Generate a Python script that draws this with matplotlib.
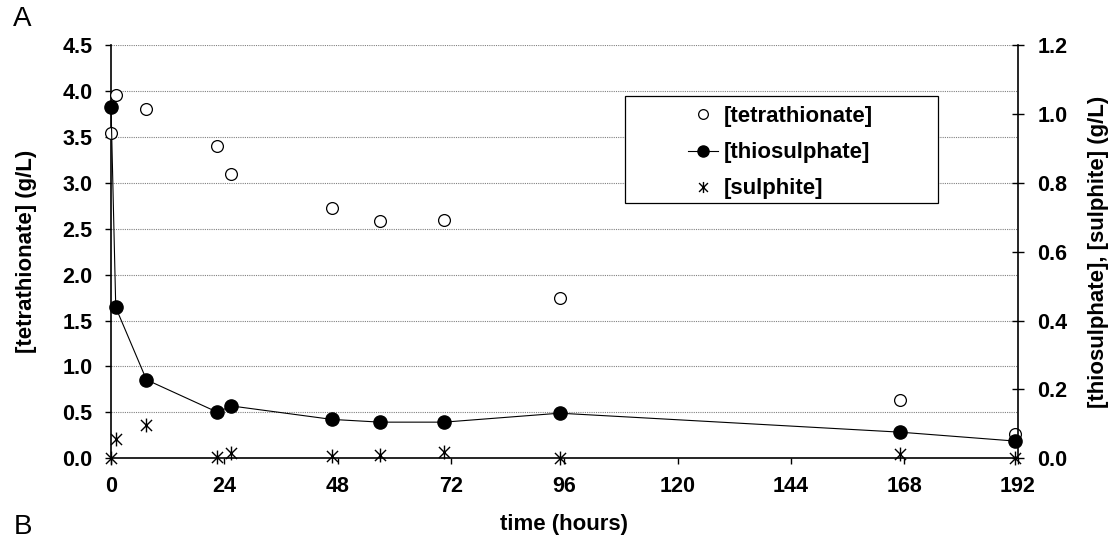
import numpy as np
import matplotlib
matplotlib.use('Agg')
from matplotlib import pyplot as plt
from matplotlib.lines import Line2D
from matplotlib.patches import Rectangle
from matplotlib.path import Path

plt.rcParams['font.family'] = ['Liberation Sans', 'DejaVu Sans']
plt.rcParams['font.weight'] = 'bold'

# sampling times (hours)
time_h = [0, 1, 7.5, 22.5, 25.5, 46.75, 57, 70.5, 95, 167, 191.5]

# left axis (g/L)
tetrathionate = [3.54, 3.96, 3.80, 3.40, 3.10, 2.72, 2.58, 2.60, 1.75, 0.635, 0.26]

# right axis (g/L)
thiosulphate = [1.02, 0.438, 0.228, 0.134, 0.152, 0.113, 0.105, 0.105, 0.131, 0.076, 0.050]
sulphite = [0.0, 0.055, 0.097, 0.003, 0.016, 0.008, 0.011, 0.019, 0.0, 0.012, 0.0]

x_ticks = np.arange(0, 193, 24)
left_ticks = np.arange(0, 4.51, 0.5)
right_ticks = np.arange(0, 1.21, 0.2)

TICK_FS = 15.5
LABEL_FS = 16

# X with a vertical bar (Excel style asterisk)
STAR = Path([(-1, -1), (1, 1), (-1, 1), (1, -1), (0, -1.25), (0, 1.25)],
            [Path.MOVETO, Path.LINETO, Path.MOVETO, Path.LINETO, Path.MOVETO, Path.LINETO])

fig = plt.figure(figsize=(11.16, 5.39), dpi=100)
ax = fig.add_axes([0.0995, 0.1497, 0.8125, 0.7668])
ax2 = ax.twinx()

# horizontal grid on left scale
for v in left_ticks[1:]:
    ax.axhline(v, color='#808080', lw=0.8, ls=(0, (1, 1)), zorder=0)

ax.plot(time_h, tetrathionate, ls='none', marker='o', ms=8.5,
        mfc='white', mec='black', mew=0.9, clip_on=False, zorder=5)
ax2.plot(time_h, thiosulphate, color='black', lw=0.8, marker='o', ms=9.5,
         mfc='black', mec='black', clip_on=False, zorder=5)
ax2.plot(time_h, sulphite, ls='none', marker=STAR, ms=10,
         mfc='none', mec='black', mew=1.0, clip_on=False, zorder=5)

ax.set_xlim(0, 192)
ax.set_ylim(0, 4.5)
ax2.set_ylim(0, 1.2)
ax.set_xticks(x_ticks)
ax.set_yticks(left_ticks)
ax2.set_yticks(right_ticks)
ax.set_yticklabels(['%.1f' % v for v in left_ticks])
ax2.set_yticklabels(['%.1f' % v for v in right_ticks])

for a in (ax, ax2):
    a.spines['top'].set_visible(False)
    a.patch.set_visible(False)
ax.spines['right'].set_visible(False)
ax2.spines['left'].set_visible(False)
ax2.spines['bottom'].set_visible(False)
ax2.spines['right'].set_linewidth(1.2)
ax.spines['left'].set_linewidth(1.2)
ax.spines['bottom'].set_linewidth(1.2)

ax.tick_params(axis='y', direction='out', length=4.5, width=1, labelsize=TICK_FS, pad=9)
ax.tick_params(axis='x', direction='out', length=4.5, width=1, labelsize=TICK_FS, pad=8)
ax2.tick_params(axis='y', direction='inout', length=9, width=1, labelsize=TICK_FS, pad=9.5)

ax.set_xlabel('time (hours)', fontsize=LABEL_FS, fontweight='bold')
ax.set_ylabel('[tetrathionate] (g/L)', fontsize=LABEL_FS, fontweight='bold')
ax2.set_ylabel('[thiosulphate], [sulphite] (g/L)', fontsize=LABEL_FS, fontweight='bold')
ax.xaxis.set_label_coords(0.5, -0.135)
ax.yaxis.set_label_coords(-0.0816, 0.5)
ax2.yaxis.set_label_coords(1.0775, 0.5)

# legend frame drawn separately (content sits off-centre in the box)
ax2.add_patch(Rectangle((0.5669, 0.617), 0.3455, 0.2596, transform=ax2.transAxes,
                        facecolor='white', edgecolor='black', lw=0.9, zorder=8))
handles = [
    Line2D([], [], ls='none', marker='o', ms=7, mfc='white', mec='black', mew=0.9),
    Line2D([], [], color='black', lw=0.8, marker='o', ms=8, mfc='black', mec='black'),
    Line2D([], [], ls='none', marker=STAR, ms=8, mfc='none', mec='black', mew=1.0),
]
names = ['[tetrathionate]', '[thiosulphate]', '[sulphite]']
leg = ax2.legend(handles, names, loc='upper left', bbox_to_anchor=(0.636, 0.852),
                 frameon=False, fontsize=LABEL_FS, handlelength=1.35, handletextpad=0.25,
                 borderpad=0, labelspacing=0.68, borderaxespad=0)
leg.set_zorder(9)
for t in leg.get_texts():
    t.set_fontweight('bold')

fig.text(0.012, 0.965, 'A', fontsize=20, fontweight='normal', va='center', ha='left')
fig.text(0.012, 0.046, 'B', fontsize=20, fontweight='normal', va='top', ha='left')

fig.savefig('out.png', dpi=100)
